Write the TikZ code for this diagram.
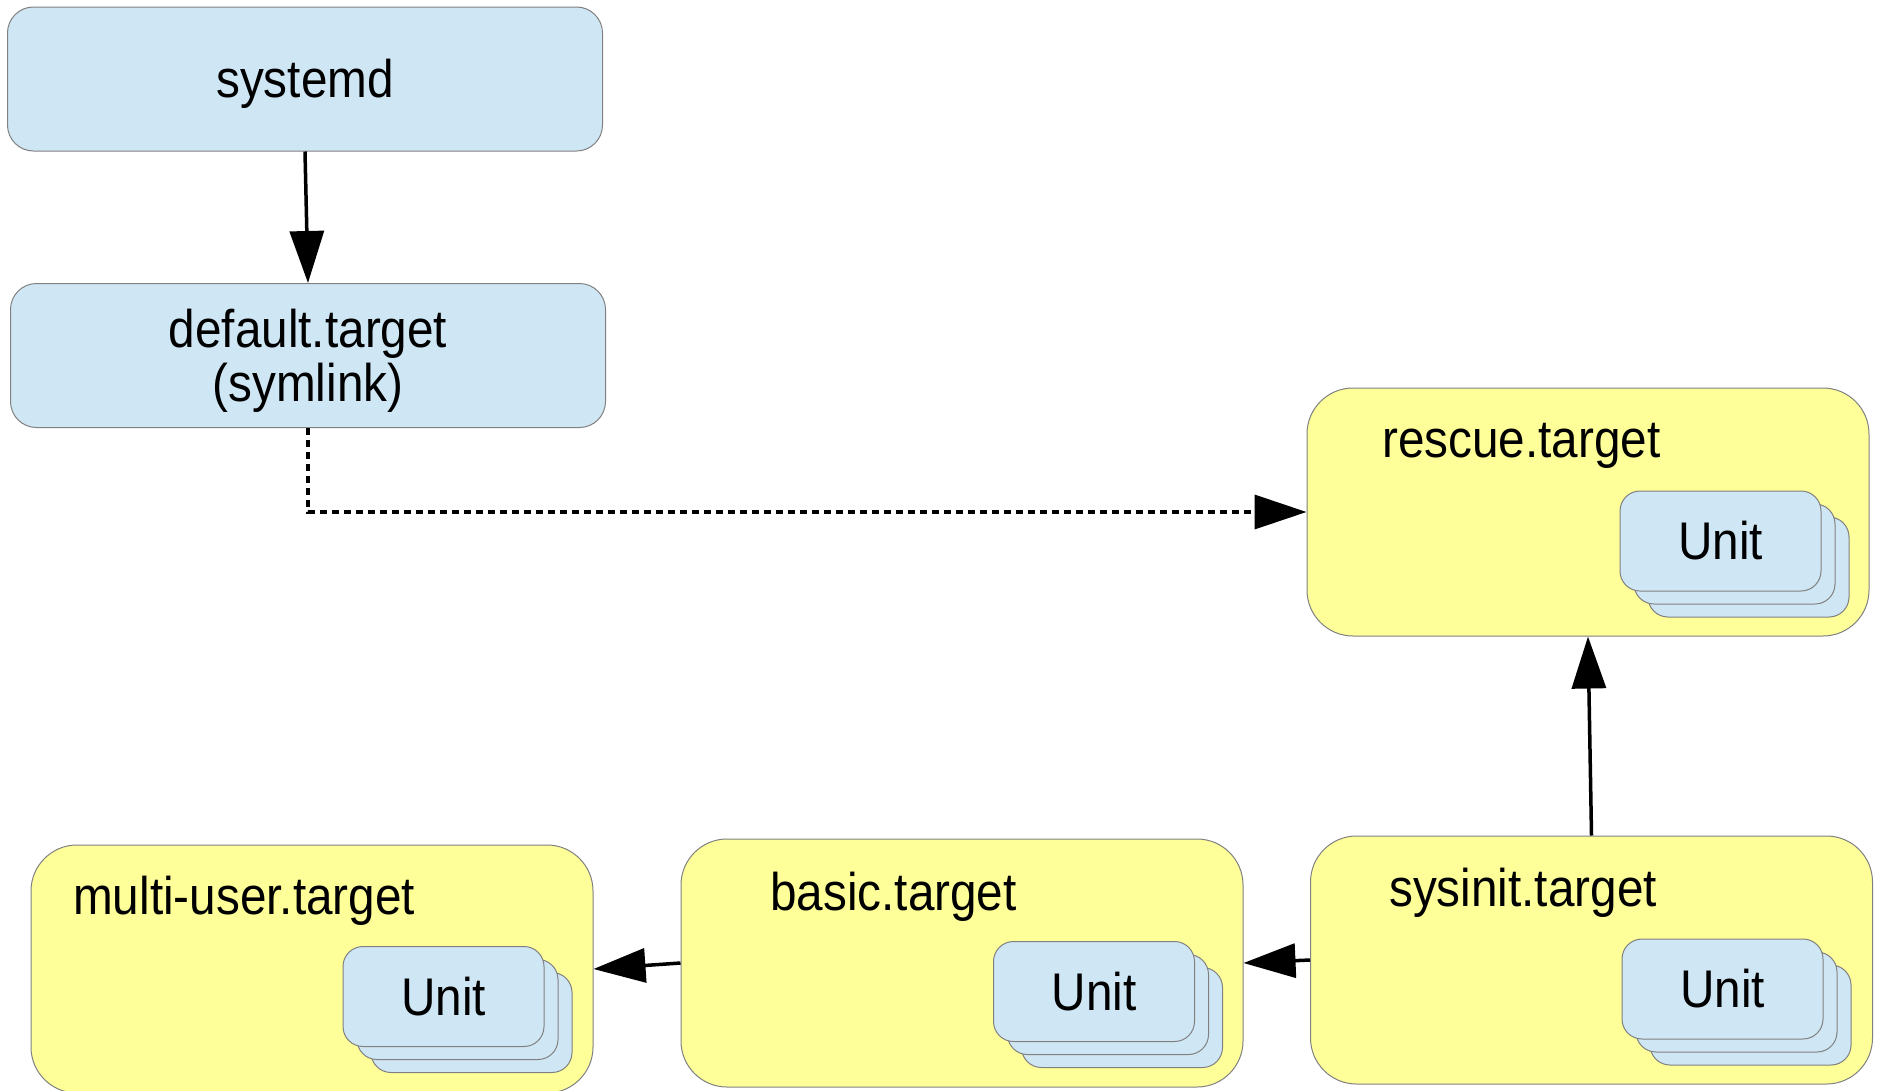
\documentclass[tikz,border=0pt]{standalone}
\usepackage{fontspec}
\setmainfont{Liberation Sans}[FakeStretch=0.9]
\usetikzlibrary{arrows.meta}
\definecolor{boxblue}{HTML}{CFE7F5}
\definecolor{boxyellow}{HTML}{FFFF99}
\definecolor{edgegray}{HTML}{808080}
\begin{document}
\begin{tikzpicture}[x=1pt,y=-1pt,
  txt/.style={font=\fontsize{53}{56}\selectfont, inner sep=0pt},
  topbox/.style={draw=edgegray, line width=1pt, fill=boxblue, rounded corners=26pt,
     minimum width=595pt, minimum height=144pt, inner sep=0pt,
     font=\fontsize{53}{54}\selectfont},
  tgtbox/.style={draw=edgegray, line width=1pt, fill=boxyellow, rounded corners=46pt,
     minimum width=562pt, minimum height=248pt, inner sep=0pt},
  unitbox/.style={draw=edgegray, line width=1pt, fill=boxblue, rounded corners=20pt,
     minimum width=201pt, minimum height=100pt, inner sep=0pt,
     font=\fontsize{53}{56}\selectfont},
  conn/.style={line width=3.5pt, -{Triangle[length=52pt,width=34pt]}},
]
\useasboundingbox (0,0) rectangle (1879,1090);

% top boxes
\node[topbox] (systemd) at (305,79) {\raisebox{-5pt}[\height][\depth]{systemd}};
\node[topbox] (default) at (308,355.5) {\raisebox{-8pt}[\height][\depth]{\begin{tabular}{@{}c@{}}default.target\\(symlink)\end{tabular}}};

% target boxes
\node[tgtbox] (rescue) at (1588,512) {};
\node[tgtbox] (multi) at (312,969) {};
\node[tgtbox] (basic) at (962,963) {};
\node[tgtbox] (sysinit) at (1591.5,960) {};

% titles
\node[txt, anchor=west] (rescueT) at (1382,446) {rescue.target};
\node[txt, anchor=west] (multiT) at (73,901) {multi-user.target};
\node[txt, anchor=west] (basicT) at (770,897) {basic.target};
\node[txt, anchor=west] (sysinitT) at (1389,893) {sysinit.target};

% unit stacks
\foreach \nm/\cx/\cy in {rU/1720.5/541, mU/443.5/996.5, bU/1094/991.5, sU/1722.5/989}{
  \node[unitbox] (\nm3) at (\cx+28,\cy+26) {};
  \node[unitbox] (\nm2) at (\cx+14,\cy+13) {};
  \node[unitbox] (\nm1) at (\cx,\cy) {Unit};
}

% connectors
\draw[conn] (systemd.south) -- (default.north);
\draw[conn, dash pattern=on 7pt off 5pt] (default.south) |- (rescue.west);
\draw[conn] (sysinit.north) -- (rescue.south);
\draw[conn] (sysinit.west) -- (basic.east);
\draw[conn] (basic.west) -- (multi.east);
\end{tikzpicture}
\end{document}
